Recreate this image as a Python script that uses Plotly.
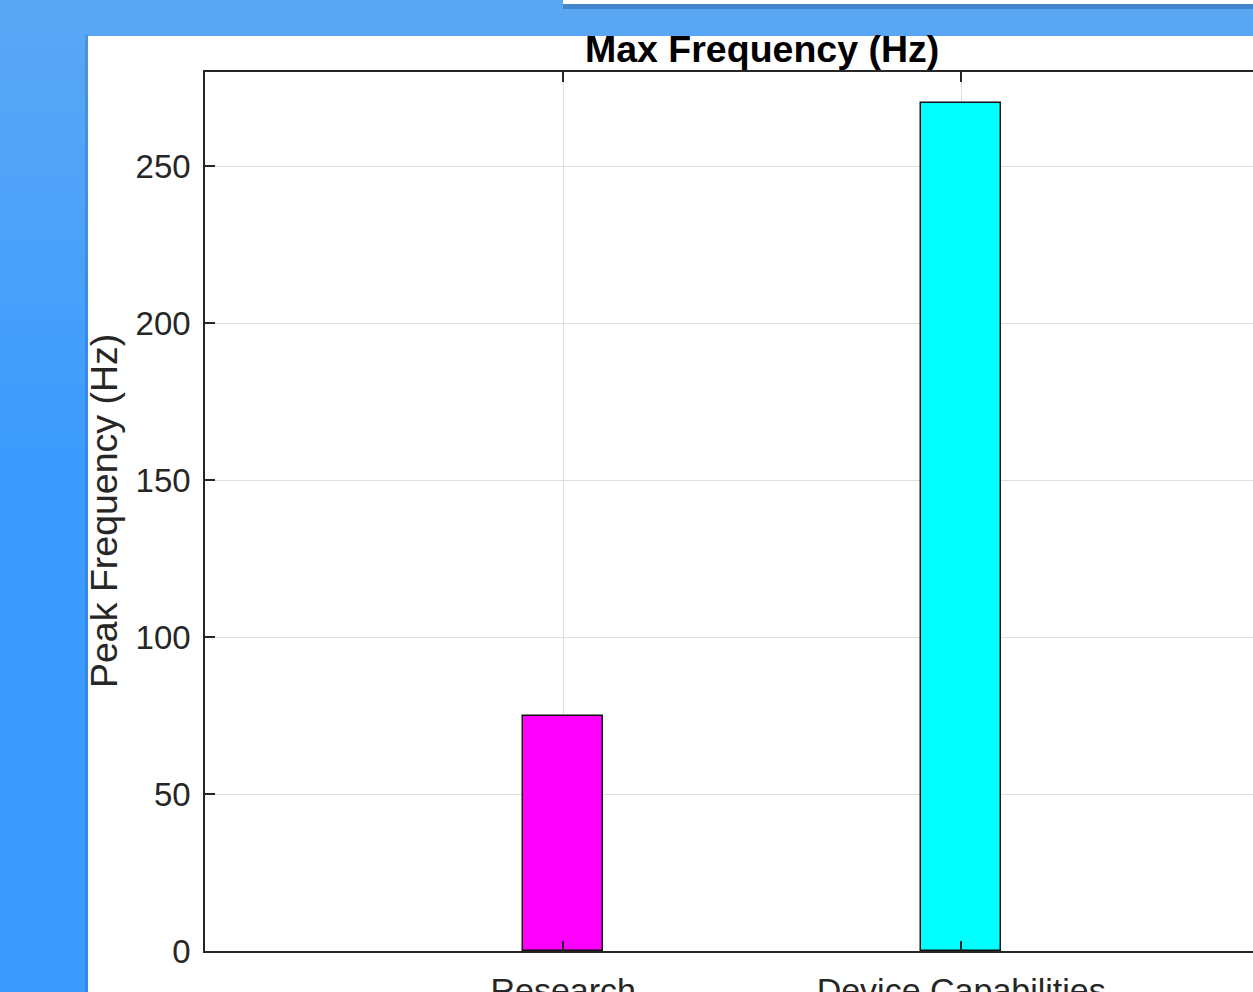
import plotly.graph_objects as go

categories = ["Research", "Device Capabilities"]
values = [75, 270]
bar_colors = ["#ff00ff", "#00ffff"]
y_ticks = [0, 50, 100, 150, 200, 250]
title_text = "Max Frequency (Hz)"
ylabel_text = "Peak Frequency (Hz)"

W, H = 1253, 992
L, R, T, B = 205, 0, 72, 41
PW = W - L - R
PH = H - T - B


def px_x(p):
    return (p - L) / PW


def px_y(p):
    return 1 - (p - T) / PH


FONT = "Liberation Sans, Arial, Helvetica, sans-serif"
AX = "#262626"

xpos = list(range(len(categories)))

fig = go.Figure()
fig.add_trace(go.Bar(
    x=xpos, y=values, width=0.2,
    marker=dict(color=bar_colors, line=dict(color="#111111", width=1.5)),
    showlegend=False, hoverinfo="skip",
))

shapes = []
# background gradient bands (light at top -> stronger blue lower down)
top_c = (90, 167, 244)
bot_c = (60, 155, 253)
nb = 30
band_h = 480 / nb
for i in range(nb):
    t = i / (nb - 1)
    c = tuple(round(top_c[k] + (bot_c[k] - top_c[k]) * t) for k in range(3))
    y0 = i * band_h
    y1 = (i + 1) * band_h + 1
    shapes.append(dict(type="rect", xref="paper", yref="paper", layer="below",
                       x0=px_x(0), x1=px_x(W), y0=px_y(y1), y1=px_y(y0),
                       fillcolor="rgb(%d,%d,%d)" % c, line=dict(width=0)))
# shadow of white panel
shapes.append(dict(type="rect", xref="paper", yref="paper", layer="below",
                   x0=px_x(85), x1=px_x(88), y0=px_y(H + 2), y1=px_y(35),
                   fillcolor="rgba(0,40,100,0.15)", line=dict(width=0)))
# white panel
shapes.append(dict(type="rect", xref="paper", yref="paper", layer="below",
                   x0=px_x(88), x1=px_x(W + 2), y0=px_y(H + 2), y1=px_y(36),
                   fillcolor="#ffffff", line=dict(width=0)))
# top-right white bar with its shadow
shapes.append(dict(type="rect", xref="paper", yref="paper", layer="below",
                   x0=px_x(563), x1=px_x(W + 2), y0=px_y(9), y1=px_y(4),
                   fillcolor="rgba(20,60,120,0.3)", line=dict(width=0)))
shapes.append(dict(type="rect", xref="paper", yref="paper", layer="below",
                   x0=px_x(563), x1=px_x(W + 2), y0=px_y(4), y1=px_y(-2),
                   fillcolor="#ffffff", line=dict(width=0)))

annotations = [
    dict(text="<b>%s</b>" % title_text, xref="paper", yref="paper",
         x=px_x(762), y=1.0, xanchor="center", yanchor="bottom", showarrow=False,
         font=dict(family=FONT, size=37.5, color="#000000")),
    dict(text=ylabel_text, xref="paper", yref="paper", textangle=-90,
         x=px_x(104), y=px_y(511), xanchor="center", yanchor="middle", showarrow=False,
         font=dict(family=FONT, size=37.5, color=AX)),
]

fig.update_layout(
    width=W, height=H,
    margin=dict(l=L, r=R, t=T, b=B, pad=0, autoexpand=False),
    paper_bgcolor="rgb(60,155,253)",
    plot_bgcolor="rgba(0,0,0,0)",
    shapes=shapes,
    annotations=annotations,
    bargap=0,
    xaxis=dict(
        range=[-0.9, -0.9 + (W - L) / 398],
        tickvals=xpos, ticktext=categories,
        showline=True, linecolor=AX, linewidth=1.5, mirror="ticks",
        ticks="inside", ticklen=10, tickwidth=1.5, tickcolor=AX,
        showgrid=True, gridcolor="#dedede", gridwidth=1,
        zeroline=False, automargin=False,
        tickfont=dict(family=FONT, size=34, color=AX),
        ticklabelstandoff=8,
    ),
    yaxis=dict(
        range=[0, 280],
        tickvals=y_ticks,
        showline=True, linecolor=AX, linewidth=1.5, mirror=False,
        ticks="inside", ticklen=10, tickwidth=1.5, tickcolor=AX,
        showgrid=True, gridcolor="#dedede", gridwidth=1,
        zeroline=False, automargin=False,
        tickfont=dict(family=FONT, size=33, color=AX),
        ticklabelstandoff=6,
    ),
)

fig.write_html(
    "out.html",
    config={"displayModeBar": False},
    post_script="document.body.style.margin='0';document.body.style.overflow='hidden';",
)
